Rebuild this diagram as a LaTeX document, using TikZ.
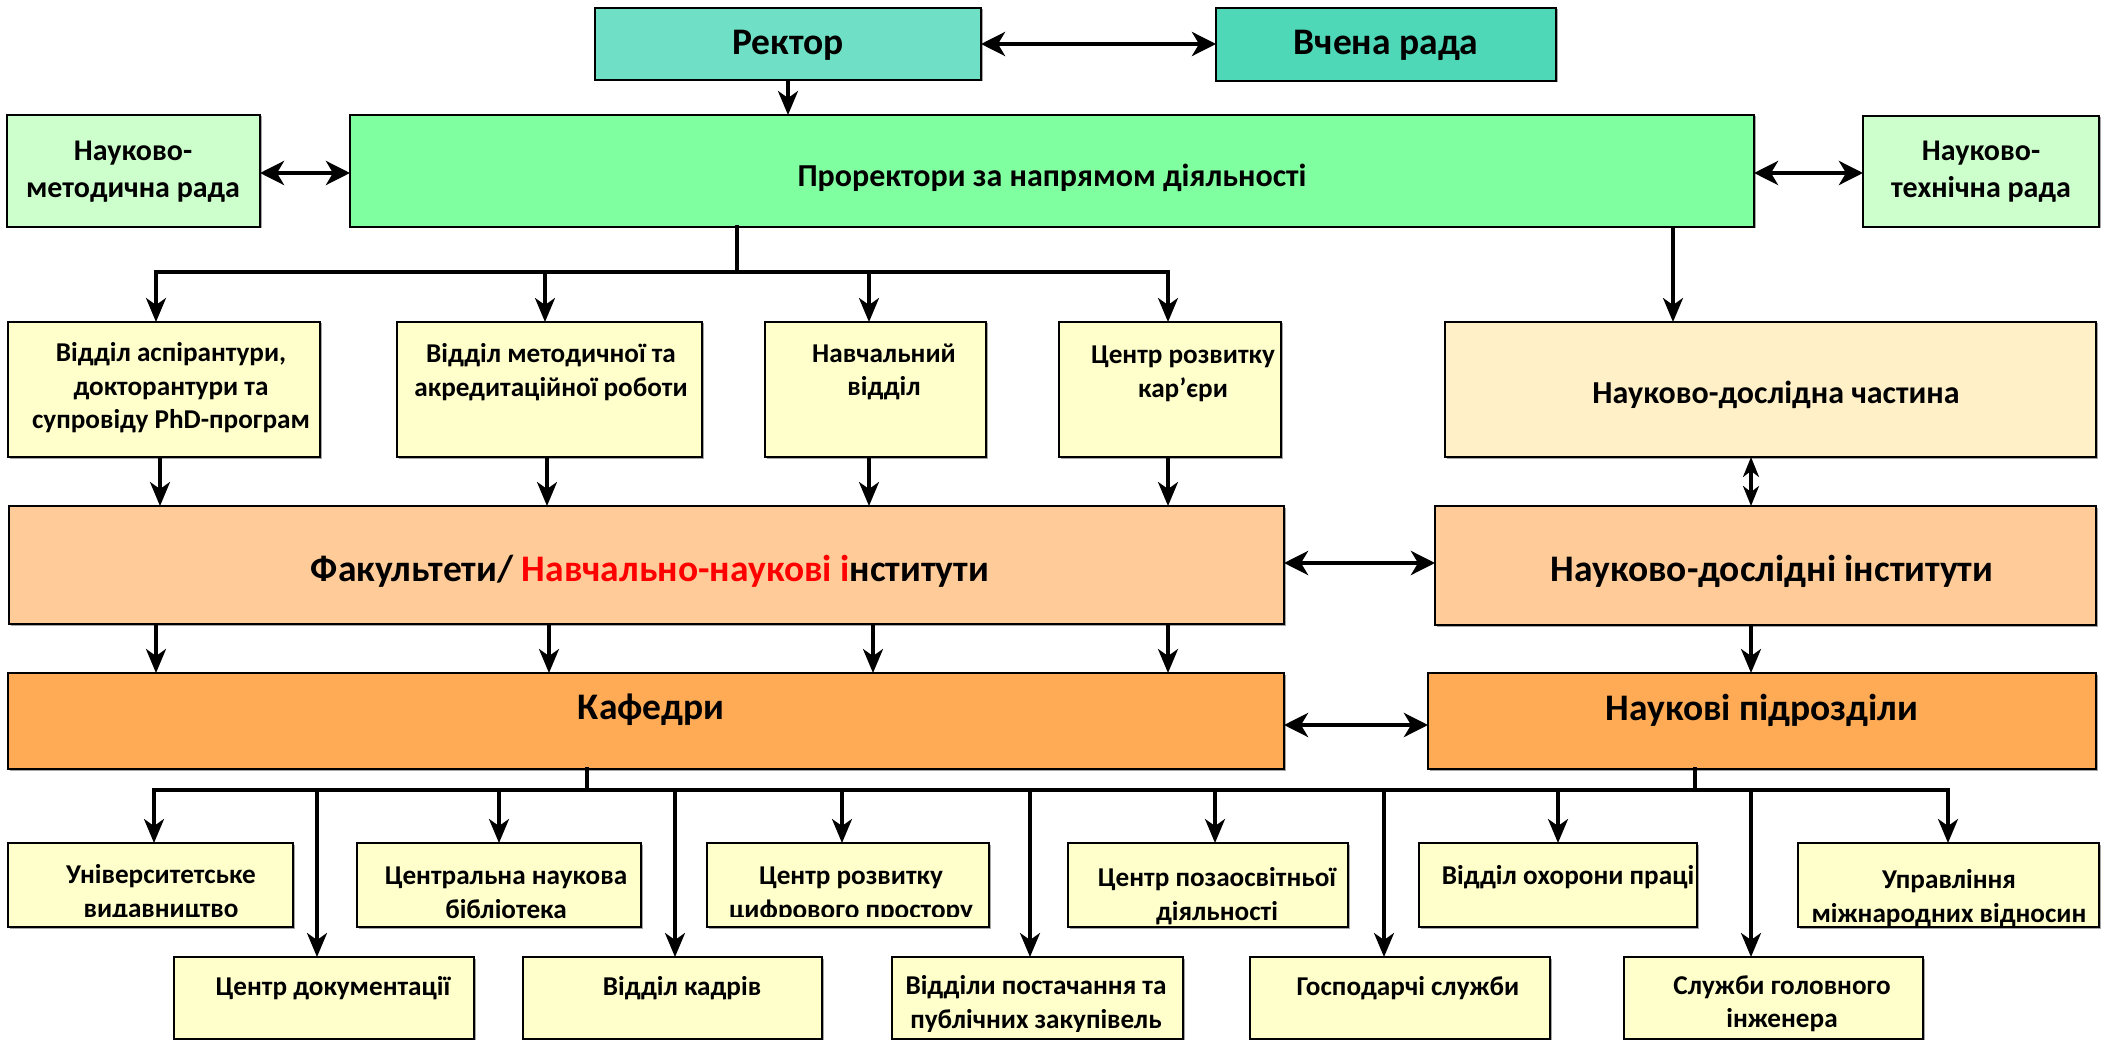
\documentclass[tikz,border=0pt]{standalone}
\usepackage{fontspec}
\setmainfont{Carlito}
\usetikzlibrary{arrows.meta,fit,shadows}
\definecolor{cRector}{HTML}{6FE0C6}
\definecolor{cVchena}{HTML}{4FD8B8}
\definecolor{cProrek}{HTML}{80FFA0}
\definecolor{cRada}{HTML}{CCFFCC}
\definecolor{cYel}{HTML}{FFFFCC}
\definecolor{cNdch}{HTML}{FFF0C8}
\definecolor{cPeach}{HTML}{FFCC99}
\definecolor{cOrange}{HTML}{FFAA55}
\definecolor{cRed}{HTML}{FF0000}
\begin{document}
\begin{tikzpicture}[x=1pt,y=-1pt,
  box/.style={draw=black, line width=2pt, inner sep=0pt, outer sep=0pt,
    drop shadow={shadow xshift=1.5pt, shadow yshift=-1.5pt, opacity=0.35, fill=black}},
  tx/.style={inner sep=0pt, align=center, text=black},
  tbig/.style={tx, font=\fontsize{37.5}{44}\selectfont\bfseries},
  tmid/.style={tx, font=\fontsize{32}{38}\selectfont\bfseries},
  trada/.style={tx, font=\fontsize{30}{37}\selectfont\bfseries},
  tsmall/.style={tx, font=\fontsize{27.2}{33.5}\selectfont\bfseries},
  arr/.style={line width=3.2pt, -{Stealth[length=24pt,width=20pt,inset=7pt]}},
  darr/.style={line width=4.5pt, {Stealth[length=24pt,width=24pt,inset=7pt]}-{Stealth[length=24pt,width=24pt,inset=7pt]}},
  sdarr/.style={line width=3.2pt, {Stealth[length=20pt,width=16pt,inset=6pt]}-{Stealth[length=20pt,width=16pt,inset=6pt]}},
  bus/.style={line width=4.8pt, line cap=rect}
]
\useasboundingbox (0,0) rectangle (2107,1040);
\clip (0,0) rectangle (2107,1040);

% ---------- boxes ----------
\node[box, fill=cRector, fit={(595,8) (981,80)}] (rector) {};
\node[box, fill=cVchena, fit={(1216,8) (1556,81)}] (vchena) {};
\node[box, fill=cProrek, fit={(350,115) (1754,227)}] (prorek) {};
\node[box, fill=cRada, fit={(7,115) (260,227)}] (nmr) {};
\node[box, fill=cRada, fit={(1863,116) (2099,227)}] (ntr) {};

\node[box, fill=cYel, fit={(8,322) (320,457)}] (o1) {};
\node[box, fill=cYel, fit={(397,322) (702,457)}] (o2) {};
\node[box, fill=cYel, fit={(765,322) (986,457)}] (o3) {};
\node[box, fill=cYel, fit={(1059,322) (1281,457)}] (o4) {};
\node[box, fill=cNdch, fit={(1445,322) (2096,457)}] (ndch) {};

\node[box, fill=cPeach, fit={(9,506) (1284,624)}] (fak) {};
\node[box, fill=cPeach, fit={(1435,506) (2096,625)}] (ndi) {};
\node[box, fill=cOrange, fit={(8,673) (1284,769)}] (kaf) {};
\node[box, fill=cOrange, fit={(1428,673) (2096,769)}] (np) {};

\node[box, fill=cYel, fit={(8,843) (293,927)}] (u1) {};
\node[box, fill=cYel, fit={(357,843) (641,927)}] (u2) {};
\node[box, fill=cYel, fit={(707,843) (989,927)}] (u3) {};
\node[box, fill=cYel, fit={(1068,843) (1348,927)}] (u4) {};
\node[box, fill=cYel, fit={(1419,843) (1697,927)}] (u5) {};
\node[box, fill=cYel, fit={(1798,843) (2099,927)}] (u6) {};

\node[box, fill=cYel, fit={(174,957) (474,1039)}] (v1) {};
\node[box, fill=cYel, fit={(523,957) (822,1039)}] (v2) {};
\node[box, fill=cYel, fit={(892,957) (1183,1039)}] (v3) {};
\node[box, fill=cYel, fit={(1250,957) (1550,1039)}] (v4) {};
\node[box, fill=cYel, fit={(1624,957) (1923,1039)}] (v5) {};

% ---------- texts ----------
\node[tbig] (rectort) at (788,45) {Ректор};
\node[tbig] (vchenat) at (1386,45) {Вчена рада};
\node[tmid] (prorekt) at (1052,178) {Проректори за напрямом діяльності};
\node[trada] (nmrt) at (133,172) {Науково-\\методична рада};
\node[trada] (ntrt) at (1981,172) {Науково-\\технічна рада};

\node[tsmall] (o1t) at (171,388) {Відділ аспірантури,\\докторантури та\\супровіду PhD-програм};
\node[tsmall] (o2t) at (551,372) {Відділ методичної та\\акредитаційної роботи};
\node[tsmall] (o3t) at (884,372) {Навчальний\\відділ};
\node[tsmall] (o4t) at (1183,374) {Центр розвитку\\кар’єри};
\node[tmid] (ndcht) at (1776,395) {Науково-дослідна частина};

\node[tbig] (fakt) at (650,571) {Факультети/ \textcolor{cRed}{Навчально-наукові і}нститути};
\node[tbig] (ndit) at (1772,571) {Науково-дослідні інститути};
\node[tbig] (kaft) at (651,710) {Кафедри};
\node[tbig] (npt) at (1762,710) {Наукові підрозділи};

\begin{scope}
\clip (0,0) rectangle (2107,916);
\node[tsmall] (u1t) at (161,893) {Університетське\\видавництво};
\node[tsmall] (u3t) at (851,895) {Центр розвитку\\цифрового простору};
\end{scope}
\node[tsmall] (u2t) at (506,893) {Центральна наукова\\бібліотека};
\node[tsmall] (u4t) at (1217,896) {Центр позаосвітньої\\діяльності};
\node[tsmall] (u5t) at (1568,877) {Відділ охорони праці};
\node[tsmall] (u6t) at (1949,898) {Управління\\міжнародних відносин};

\begin{scope}
\clip (0,0) rectangle (2107,1031);
\node[tsmall] (v1t) at (333,988) {Центр документації};
\node[tsmall] (v2t) at (682,988) {Відділ кадрів};
\node[tsmall] (v3t) at (1036,1004) {Відділи постачання та\\публічних закупівель};
\node[tsmall] (v4t) at (1408,988) {Господарчі служби};
\node[tsmall] (v5t) at (1782,1004) {Служби головного\\інженера};
\end{scope}

% ---------- top connectors ----------
\draw[darr] (rector.east) -- (vchena.west |- rector.east);
\coordinate (rx) at (788,0);
\draw[arr] (rector.south -| rx) -- (prorek.north -| rx);
\coordinate (ly) at (0,173);
\draw[darr] (nmr.east |- ly) -- (prorek.west |- ly);
\draw[darr] (prorek.east |- ly) -- (ntr.west |- ly);

% top bus
\coordinate (tbS) at (737,272);
\coordinate (tb1) at (156,272);
\coordinate (tb2) at (545,272);
\coordinate (tb3) at (869,272);
\coordinate (tb4) at (1168,272);
\draw[bus] (prorek.south -| tbS) -- (tbS);
\draw[bus] (tb1) -- (tb4);
\draw[arr] (tb1) -- (o1.north -| tb1);
\draw[arr] (tb2) -- (o2.north -| tb2);
\draw[arr] (tb3) -- (o3.north -| tb3);
\draw[arr] (tb4) -- (o4.north -| tb4);
\coordinate (nx) at (1673,0);
\draw[arr] (prorek.south -| nx) -- (ndch.north -| nx);

% offices -> faculties
\coordinate (f1) at (160,0);
\coordinate (f2) at (547,0);
\coordinate (f3) at (869,0);
\coordinate (f4) at (1168,0);
\draw[arr] (o1.south -| f1) -- (fak.north -| f1);
\draw[arr] (o2.south -| f2) -- (fak.north -| f2);
\draw[arr] (o3.south -| f3) -- (fak.north -| f3);
\draw[arr] (o4.south -| f4) -- (fak.north -| f4);
\coordinate (dx) at (1751,0);
\draw[sdarr] (ndch.south -| dx) -- (ndi.north -| dx);

% faculties -> departments
\coordinate (k1) at (156,0);
\coordinate (k2) at (549,0);
\coordinate (k3) at (873,0);
\coordinate (k4) at (1168,0);
\draw[arr] (fak.south -| k1) -- (kaf.north -| k1);
\draw[arr] (fak.south -| k2) -- (kaf.north -| k2);
\draw[arr] (fak.south -| k3) -- (kaf.north -| k3);
\draw[arr] (fak.south -| k4) -- (kaf.north -| k4);
\coordinate (my1) at (0,563);
\coordinate (my2) at (0,725);
\draw[darr] (fak.east |- my1) -- (ndi.west |- my1);
\draw[darr] (kaf.east |- my2) -- (np.west |- my2);
\draw[arr] (ndi.south -| dx) -- (np.north -| dx);

% bottom bus
\coordinate (bbL) at (154,790);
\coordinate (bbR) at (1948,790);
\coordinate (bs1) at (587,790);
\coordinate (bs2) at (1695,790);
\draw[bus] (kaf.south -| bs1) -- (bs1);
\draw[bus] (np.south -| bs2) -- (bs2);
\draw[bus] (bbL) -- (bbR);
\coordinate (d1) at (154,790);
\coordinate (d2) at (317,790);
\coordinate (d3) at (499,790);
\coordinate (d4) at (675,790);
\coordinate (d5) at (842,790);
\coordinate (d6) at (1030,790);
\coordinate (d7) at (1215,790);
\coordinate (d8) at (1384,790);
\coordinate (d9) at (1558,790);
\coordinate (d10) at (1751,790);
\coordinate (d11) at (1948,790);
\draw[arr] (d1) -- (u1.north -| d1);
\draw[arr] (d2) -- (v1.north -| d2);
\draw[arr] (d3) -- (u2.north -| d3);
\draw[arr] (d4) -- (v2.north -| d4);
\draw[arr] (d5) -- (u3.north -| d5);
\draw[arr] (d6) -- (v3.north -| d6);
\draw[arr] (d7) -- (u4.north -| d7);
\draw[arr] (d8) -- (v4.north -| d8);
\draw[arr] (d9) -- (u5.north -| d9);
\draw[arr] (d10) -- (v5.north -| d10);
\draw[arr] (d11) -- (u6.north -| d11);
\end{tikzpicture}
\end{document}
